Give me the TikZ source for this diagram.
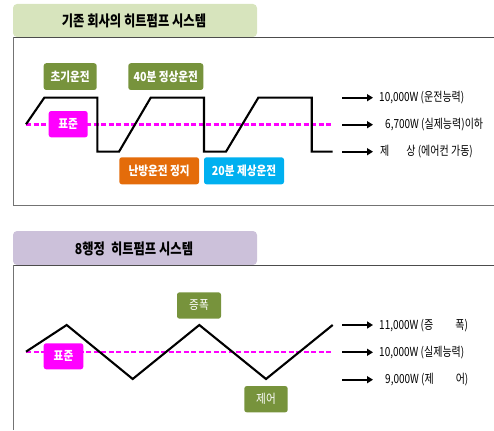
\documentclass[tikz,border=0pt]{standalone}
\usepackage{fontspec}
\usetikzlibrary{arrows.meta}
\newfontfamily\krt[FakeStretch=0.82]{Noto Sans CJK KR}
\newfontfamily\krb[FakeStretch=0.85]{Noto Sans CJK KR}
\newfontfamily\krc[FakeStretch=0.8]{Noto Sans CJK KR}
\definecolor{olive}{HTML}{77933C}
\definecolor{mag}{HTML}{FF00FF}
\definecolor{orng}{HTML}{E46C0A}
\definecolor{cyn}{HTML}{00B0F0}
\definecolor{tabgreen}{HTML}{D7E4BD}
\definecolor{tablav}{HTML}{CCC1DA}
\tikzset{
  lbox/.style={fill=#1, rounded corners=2.5pt, text=white, inner sep=0pt, align=center},
  wave/.style={line width=2.1pt, line join=miter},
  stdline/.style={mag, line width=2.2pt, dash pattern=on 5pt off 2.5pt},
  capar/.style={line width=2.1pt, -{Triangle[length=6pt,width=7pt]}},
  captext/.style={anchor=west, inner sep=0pt, font=\krc\fontsize{12.5}{14}\selectfont},
  frameline/.style={draw=black!70, line width=0.9pt},
  tabtitle/.style={font=\krt\bfseries\fontsize{15}{17}\selectfont},
  boldlbl/.style={font=\krb\bfseries\fontsize{12.5}{14}\selectfont},
  plainlbl/.style={font=\krb\fontsize{12.5}{14}\selectfont}
}
\begin{document}
\begin{tikzpicture}[x=1pt,y=-1pt]
\useasboundingbox (0,0) rectangle (494,430);
% ---------- top panel ----------
\fill[tabgreen, rounded corners=4pt] (13,37) -- (13,4) -- (257,4) -- (257,37) -- cycle;
\node[tabtitle] (t1) at (134,21) {기존 회사의 히트펌프 시스템};
\draw[frameline] (13,37) -- (494,37);
\draw[draw=black!55, line width=0.9pt] (13,37) -- (13,205) -- (494,205);
% waveform
\coordinate (w1) at (26,124.3);
\coordinate (w2) at (44.3,97.7);
\coordinate (w3) at (97.3,97.7);
\coordinate (w4) at (97.3,151.7);
\coordinate (w5) at (119,151.7);
\coordinate (w6) at (150.7,97.7);
\coordinate (w7) at (204,97.7);
\coordinate (w8) at (204,151.7);
\coordinate (w9) at (226,151.7);
\coordinate (w10) at (258.3,97.7);
\coordinate (w11) at (311.7,97.7);
\coordinate (w12) at (311.7,151.7);
\coordinate (w13) at (332.7,151.7);
\coordinate (s1) at (26,124.5);
\coordinate (s2) at (332.7,124.5);
\draw[stdline] (s1) -- (s2);
\draw[wave] (w1) -- (w2) -- (w3) -- (w4) -- (w5) -- (w6) -- (w7) -- (w8) -- (w9) -- (w10) -- (w11) -- (w12) -- (w13);
% labels
\node[lbox=olive, minimum width=53pt, minimum height=26.7pt, boldlbl] (l1) at (70.2,76.6) {초기운전};
\node[lbox=olive, minimum width=75pt, minimum height=26.7pt, boldlbl] (l2) at (165.8,76.6) {40분 정상운전};
\node[lbox=mag, minimum width=39pt, minimum height=26.3pt, boldlbl] (l3) at (68.2,124.2) {표준};
\node[lbox=orng, minimum width=79.7pt, minimum height=27pt, boldlbl] (l4) at (159.2,170.8) {난방운전 정지};
\node[lbox=cyn, minimum width=80pt, minimum height=27pt, boldlbl] (l5) at (244,170.8) {20분 제상운전};
% arrows and captions
\coordinate (a1s) at (342.3,97.7);  \coordinate (a1e) at (373,97.7);
\coordinate (a2s) at (342.3,124.7); \coordinate (a2e) at (373,124.7);
\coordinate (a3s) at (342.3,151.7); \coordinate (a3e) at (373,151.7);
\draw[capar] (a1s) -- (a1e);
\draw[capar] (a2s) -- (a2e);
\draw[capar] (a3s) -- (a3e);
\node[captext] (c1) at (379,98) {10,000W (운전능력)};
\node[captext] (c2) at (385,125) {6,700W (실제능력)이하};
\node[captext] (c3) at (380,152) {제\hspace{17pt}상 (에어컨 가동)};
% ---------- bottom panel ----------
\fill[tablav, rounded corners=4pt] (13,265) -- (13,231) -- (257,231) -- (257,265) -- cycle;
\node[tabtitle] (t2) at (134,248.5) {8행정\hspace{6pt}히트펌프 시스템};
\draw[frameline] (13,265) -- (494,265);
\draw[draw=black!55, line width=0.9pt] (13,265) -- (13,430);
\coordinate (v1) at (26,351.7);
\coordinate (v2) at (66.7,325);
\coordinate (v3) at (132.7,379);
\coordinate (v4) at (199.3,325);
\coordinate (v5) at (266,379);
\coordinate (v6) at (332.7,325);
\coordinate (u1) at (26,352);
\coordinate (u2) at (332.7,352);
\draw[stdline] (u1) -- (u2);
\draw[wave] (v1) -- (v2) -- (v3) -- (v4) -- (v5) -- (v6);
\node[lbox=mag, minimum width=39.6pt, minimum height=26pt, boldlbl] (m1) at (63.5,356.3) {표준};
\node[lbox=olive, minimum width=44pt, minimum height=26.4pt, plainlbl] (m2) at (199,305.5) {증폭};
\node[lbox=olive, minimum width=43.4pt, minimum height=26.3pt, plainlbl] (m3) at (266,399.2) {제어};
\coordinate (b1s) at (342.3,325);   \coordinate (b1e) at (373,325);
\coordinate (b2s) at (342.3,352.3); \coordinate (b2e) at (373,352.3);
\coordinate (b3s) at (342.3,379.7); \coordinate (b3e) at (373,379.7);
\draw[capar] (b1s) -- (b1e);
\draw[capar] (b2s) -- (b2e);
\draw[capar] (b3s) -- (b3e);
\node[captext] (d1) at (379,325.5) {11,000W (증\hspace{22pt}폭)};
\node[captext] (d2) at (379,352.5) {10,000W (실제능력)};
\node[captext] (d3) at (385,380) {9,000W (제\hspace{22pt}어)};
\end{tikzpicture}
\end{document}
